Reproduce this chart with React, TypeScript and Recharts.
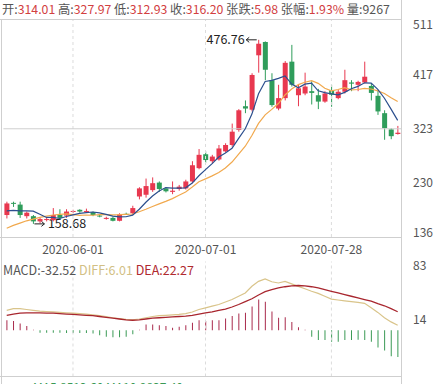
import React from 'react';
import { ComposedChart, Bar, Line, XAxis, YAxis, ReferenceLine, Cell } from 'recharts';

// trading days shown in the chart
const dates = [
  '2020-05-18', '2020-05-19', '2020-05-20', '2020-05-21', '2020-05-22',
  '2020-05-25', '2020-05-26', '2020-05-27', '2020-05-28', '2020-05-29',
  '2020-06-01', '2020-06-02', '2020-06-03', '2020-06-04', '2020-06-05',
  '2020-06-08', '2020-06-09', '2020-06-10', '2020-06-11', '2020-06-12',
  '2020-06-15', '2020-06-16', '2020-06-17', '2020-06-18', '2020-06-19',
  '2020-06-22', '2020-06-23', '2020-06-24', '2020-06-29', '2020-06-30',
  '2020-07-01', '2020-07-02', '2020-07-03', '2020-07-06', '2020-07-07',
  '2020-07-08', '2020-07-09', '2020-07-10', '2020-07-13', '2020-07-14',
  '2020-07-15', '2020-07-16', '2020-07-17', '2020-07-20', '2020-07-21',
  '2020-07-22', '2020-07-23', '2020-07-24', '2020-07-27', '2020-07-28',
  '2020-07-29', '2020-07-30', '2020-07-31', '2020-08-03', '2020-08-04',
  '2020-08-05', '2020-08-06', '2020-08-07', '2020-08-10', '2020-08-11',
];

const opens = [
  174, 195, 192, 172, 172, 163, 166, 165, 174, 173,
  180, 183, 180, 179, 173, 168, 169, 164, 176, 177,
  206, 209, 217, 230, 220, 214, 219, 220, 232, 255,
  279, 267, 270, 284, 295, 321, 362, 356, 450, 473,
  407, 358, 376, 439, 381, 384, 388, 381, 370, 390,
  376, 387, 403, 399, 403, 397, 380, 350, 322, 314.01,
];
const closes = [
  194, 194, 174, 178, 163, 167, 167, 174, 169, 180,
  181, 180, 181, 174, 172, 169, 164, 175, 175, 186,
  220, 224, 229, 219, 215, 216, 223, 232, 260, 278,
  269, 275, 289, 295, 318, 355, 358, 416, 470, 425,
  364, 376, 437, 399, 393, 396, 385, 370, 384, 382,
  387, 407, 401, 404, 413, 385, 353, 324, 310.22, 316.2,
];
const highs = [
  197, 197, 197, 180, 174, 169, 169, 186, 184, 184,
  183, 184, 185, 180, 175, 171, 171, 177, 178, 190,
  222, 237, 239, 232, 222, 232, 226, 235, 267, 288,
  284, 278, 295, 298, 332, 357, 372, 419, 476.76, 474,
  419, 399, 440, 468, 399, 420, 405, 392, 388, 399,
  390, 425, 407, 406, 439, 402, 390, 355, 324, 327.97,
];
const lows = [
  168, 188, 169, 168, 158.68, 160, 163, 163, 166, 169,
  177, 178, 178, 172, 170, 166, 163, 163, 174, 175,
  201, 204, 214, 214, 213, 210, 216, 218, 229, 253,
  264, 263, 268, 282, 292, 318, 350, 353, 420, 407,
  361, 355, 372, 396, 362, 381, 365, 357, 368, 361,
  374, 384, 388, 388, 401, 372, 347, 304, 305, 312.93,
];
const ma5 = [
  181, 182, 181, 181, 180.6, 175.2, 169.8, 169.8, 168, 171.4,
  174.2, 176.8, 178.2, 179.2, 177.6, 175.2, 172, 170.8, 171, 173.8,
  184, 196, 206.8, 215.6, 221.4, 220.6, 220.4, 221, 229.2, 241.8,
  252.4, 262.8, 274.2, 281.2, 289.2, 306.4, 323, 348.4, 383.4, 404.8,
  406.6, 410.2, 414.4, 400.2, 393.8, 400.2, 402, 388.6, 385.6, 383.4,
  381.6, 386, 392.2, 396.2, 402.4, 402, 391.2, 375.8, 357, 337.6,
];
const ma10 = [
  151, 156, 160, 164, 167, 170, 172, 174, 175, 176,
  174.7, 173.3, 174, 173.6, 174.5, 174.7, 174.4, 174.5, 175.1, 175.7,
  179.6, 184, 188.8, 193.3, 197.6, 202.3, 208.2, 213.9, 222.4, 231.6,
  236.5, 241.6, 247.6, 255.2, 265.5, 279.4, 292.9, 311.3, 332.3, 347,
  356.5, 366.6, 381.4, 391.8, 399.3, 403.4, 406.1, 401.5, 392.9, 388.6,
  390.9, 394, 390.4, 390.9, 392.9, 391.8, 388.6, 384, 376.6, 370,
];

// MACD panel
const diff = [
  24, 26, 26, 25, 24, 23, 22.5, 22, 21.5, 21,
  20.5, 20, 19.5, 18.5, 17.5, 16.5, 15, 14, 13, 12.5,
  13.5, 15, 16.5, 17.5, 18, 18.5, 19, 20, 22, 25,
  27, 29, 31, 34, 37, 41, 45, 53, 59, 62,
  58.5, 57, 59, 56, 53, 50, 47, 44.5, 41, 37.5,
  36.5, 35.5, 34.5, 33.5, 32.5, 27, 21.5, 15, 10, 6.01,
];
const dea = [
  18, 19.5, 20.5, 21, 21, 21, 20.5, 20.5, 20, 19.5,
  19, 18.5, 18, 17.5, 16.5, 15.5, 14.5, 13.5, 12.5, 12,
  12.5, 13.5, 14.5, 15, 15.5, 16, 16.5, 17, 18, 19.5,
  21, 22, 24, 25.5, 28, 31, 34.5, 38, 42.5, 46.5,
  49, 51, 52.5, 53.5, 54, 53.5, 52.5, 51, 49, 47,
  45, 43, 41, 39, 37, 35, 32, 29.5, 26, 22.27,
];
const macd = [
  12, 11, 8, 5, 0.4, -3, -3, -3, -3, -3.5,
  -3.5, -3.5, -3.5, -4, -6, -8, -8.5, -8.5, -8, -5,
  0.4, 7, 7, 6, 5, 3, 4, 6, 9, 12,
  11, 12, 12, 14, 17, 20, 21, 28.5, 37, 34.5,
  22.5, 15, 15.5, 10, 3.5, 0.4, -8, -12, -12, -14,
  -14, -12, -12, -11.5, -12, -14, -21, -24.5, -31.5, -32.52,
];
const volume = 9267;

const dateTicks = ['2020-06-01', '2020-07-01', '2020-07-28'];
const priceTicks = [136, 230, 323, 417, 511];
const macdTicks = [-56, 14, 83];

const RED = '#e8384f';
const GREEN = '#2f9d5b';
const FONT = '"Noto Sans CJK SC", "Microsoft YaHei", sans-serif';

const candles = dates.map((date, i) => ({
  date,
  open: opens[i],
  close: closes[i],
  high: highs[i],
  low: lows[i],
  range: [lows[i], highs[i]],
  ma5: ma5[i],
  ma10: ma10[i],
}));
const macdRows = dates.map((date, i) => ({ date, diff: diff[i], dea: dea[i], macd: macd[i] }));

const maxHigh = Math.max(...highs);
const minLow = Math.min(...lows);

const Candle = (props: any) => {
  const { x, y, width, height, payload } = props;
  const { open, close, high, low } = payload;
  const color = close >= open ? RED : GREEN;
  const top = Math.min(y, y + height);
  const h = Math.abs(height);
  const k = high === low ? 0 : h / (high - low);
  const yOf = (v: number) => top + (high - v) * k;
  const bodyTop = yOf(Math.max(open, close));
  const bodyH = Math.max(1, Math.abs(yOf(open) - yOf(close)));
  const cx = x + width / 2;
  return (
    <g>
      <line x1={cx} x2={cx} y1={top} y2={top + h} stroke={color} strokeWidth={1} />
      <rect x={x} y={bodyTop} width={width} height={bodyH} fill={color} />
      {high === maxHigh && (
        <g>
          <text x={cx - 14} y={top + 4} textAnchor="end" fontSize={12.5} fill="#222" fontFamily={FONT}>
            {high.toFixed(2)}
          </text>
          <line x1={cx - 12.5} x2={cx - 2} y1={top} y2={top} stroke="#222" />
          <path d={`M${cx - 12.5},${top} l3,-2.5 M${cx - 12.5},${top} l3,2.5`} stroke="#222" fill="none" />
        </g>
      )}
      {low === minLow && (
        <g>
          <text x={cx + 14.5} y={top + h + 4.5} fontSize={12.5} fill="#222" fontFamily={FONT}>
            {low.toFixed(2)}
          </text>
          <line x1={cx + 1} x2={cx + 11} y1={top + h} y2={top + h} stroke="#222" />
          <path d={`M${cx + 11},${top + h} l-3,-2.5 M${cx + 11},${top + h} l-3,2.5`} stroke="#222" fill="none" />
        </g>
      )}
    </g>
  );
};

const makeRightTick = (shift: Record<number, number>) => (props: any) => {
  const { x, y, payload } = props;
  return (
    <text x={x + 4} y={y + (shift[payload.value] || 0)} dy="0.35em" fontSize={12} fill="#555" fontFamily={FONT}>
      {payload.value}
    </text>
  );
};

const PriceTick = makeRightTick({ 511: 5, 136: -4 });
const MacdTick = makeRightTick({ 83: 4.5, 14: 1, '-56': -3.5 } as any);

const last = closes.length - 1;
const change = closes[last] - closes[last - 1];
const pct = (change / closes[last - 1]) * 100;
const header: [string, string][] = [
  ['开:', opens[last].toFixed(2)],
  ['高:', highs[last].toFixed(2)],
  ['低:', lows[last].toFixed(2)],
  ['收:', closes[last].toFixed(2)],
  ['张跌:', change.toFixed(2)],
  ['张幅:', pct.toFixed(2) + '%'],
];

export default function App() {
  return (
    <div style={{ position: 'fixed', left: 0, top: 0, width: 433, height: 384, background: '#fff', overflow: 'hidden' }}>
      <div style={{ position: 'absolute', left: 0, top: 0 }}>
        <ComposedChart width={433} height={260} data={candles} margin={{ top: 20, right: 0, bottom: 0, left: 3.4 }}>
          <XAxis
            dataKey="date"
            ticks={dateTicks}
            interval={0}
            axisLine={false}
            tickLine={false}
            height={23}
            tick={{ fill: '#555', fontSize: 12, fontFamily: FONT }}
          />
          <YAxis
            orientation="right"
            width={32}
            domain={[136, 511]}
            ticks={priceTicks}
            allowDataOverflow
            axisLine={false}
            tickLine={false}
            tick={PriceTick}
          />
          {dateTicks.map((d) => (
            <ReferenceLine key={d} x={d} stroke="#dcdcdc" strokeDasharray="3 3" />
          ))}
          <ReferenceLine y={323} stroke="#cfcfcf" />
          <Bar dataKey="range" barSize={5} shape={<Candle />} isAnimationActive={false} />
          <Line dataKey="ma10" stroke="#f1a94e" strokeWidth={1.2} dot={false} isAnimationActive={false} />
          <Line dataKey="ma5" stroke="#2c4f8e" strokeWidth={1.2} dot={false} isAnimationActive={false} />
        </ComposedChart>
      </div>
      <div style={{ position: 'absolute', left: 0, top: 240 }}>
        <ComposedChart width={433} height={140} data={macdRows} margin={{ top: 21.5, right: 0, bottom: 3.5, left: 3.4 }}>
          <XAxis dataKey="date" hide />
          <YAxis
            orientation="right"
            width={32}
            domain={[-56, 83]}
            ticks={macdTicks}
            allowDataOverflow
            axisLine={false}
            tickLine={false}
            tick={MacdTick}
          />
          {dateTicks.map((d) => (
            <ReferenceLine key={d} x={d} stroke="#dcdcdc" strokeDasharray="3 3" />
          ))}
          <Bar dataKey="macd" barSize={1} isAnimationActive={false}>
            {macdRows.map((r, i) => (
              <Cell key={`m-${i}`} fill={r.macd >= 0 ? '#a92a4c' : '#3a9a55'} />
            ))}
          </Bar>
          <Line dataKey="diff" stroke="#d9c48a" strokeWidth={1.2} dot={false} isAnimationActive={false} />
          <Line dataKey="dea" stroke="#a8262e" strokeWidth={1.3} dot={false} isAnimationActive={false} />
        </ComposedChart>
      </div>
      <svg width={433} height={384} style={{ position: 'absolute', left: 0, top: 0, pointerEvents: 'none' }}>
        <line x1={0} x2={401} y1={19.5} y2={19.5} stroke="#cfcfcf" />
        <line x1={0} x2={401} y1={237.5} y2={237.5} stroke="#cfcfcf" />
        <line x1={0} x2={401} y1={376.5} y2={376.5} stroke="#cfcfcf" />
        <line x1={1.5} x2={1.5} y1={19} y2={384} stroke="#cfcfcf" />
        <line x1={401.5} x2={401.5} y1={0} y2={384} stroke="#cfcfcf" />
        <text x={2} y={14} fontSize={12.3} fontFamily={FONT} fill="#555">
          {header.map(([k, v], i) => (
            <React.Fragment key={k}>
              <tspan>{(i > 0 ? ' ' : '') + k}</tspan>
              <tspan fill="#d2403f">{v}</tspan>
            </React.Fragment>
          ))}
          <tspan>{' 量:' + volume}</tspan>
        </text>
        <text x={3} y={275} fontSize={12.5} fontFamily={FONT} fill="#555">
          <tspan>{'MACD:' + macd[last].toFixed(2)}</tspan>
          <tspan fill="#d2bf85">{' DIFF:' + diff[last].toFixed(2)}</tspan>
          <tspan fill="#b02a30">{' DEA:' + dea[last].toFixed(2)}</tspan>
        </text>
        <text x={33} y={392} fontSize={12} fontFamily={FONT} fill="#3a9a55">
          MA5:8512.60 MA10:9837.40
        </text>
      </svg>
    </div>
  );
}
